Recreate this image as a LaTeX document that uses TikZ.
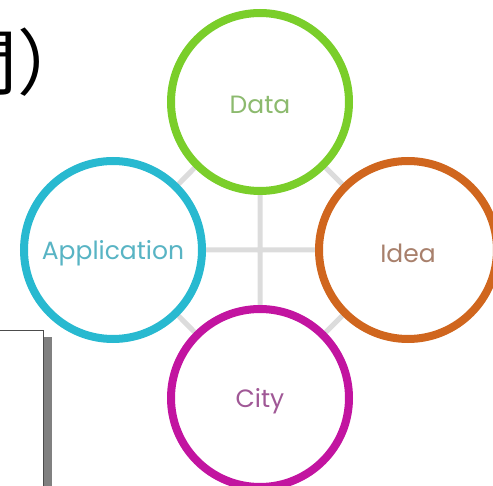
\documentclass[tikz,border=0pt]{standalone}
\usepackage{fontspec}
\setmainfont{Poppins}
\newfontfamily\cjkfont{Noto Sans CJK JP}
\usepackage{tikz}
\usetikzlibrary{positioning, backgrounds}

\definecolor{datagreen}{RGB}{122,206,42}
\definecolor{appteal}{RGB}{40,185,208}
\definecolor{ideaorange}{RGB}{208,102,30}
\definecolor{citymagenta}{RGB}{194,20,160}
\definecolor{datatext}{RGB}{140,186,110}
\definecolor{apptext}{RGB}{88,180,196}
\definecolor{ideatext}{RGB}{168,128,108}
\definecolor{citytext}{RGB}{160,88,150}
\definecolor{linkgray}{RGB}{220,220,220}
\definecolor{shadowgray}{RGB}{128,128,128}

\begin{document}
\begin{tikzpicture}[x=1pt, y=-1pt, on grid, node distance=148pt,
  main node/.style={circle,draw,fill=white,line width=8pt,inner sep=0pt,
    minimum size=178pt,font=\fontsize{25}{25}\selectfont},
  label text/.style={yshift=-3pt},
  link/.style={draw=linkgray,line width=5pt}]

\clip (0,0) rectangle (493,486);

% title, cut at the left edge
\node[anchor=base west, inner sep=0pt, font=\cjkfont\fontsize{72}{72}\selectfont] (title) at (-55,90) {間）};

% framed box with shadow
\fill[shadowgray] (8,337) rectangle (52,490);
\draw[draw=black!70, fill=white, line width=0.8pt] (-2,330) rectangle (43,490);

\node[main node, draw=datagreen] (D) at (260,102) {};
\node[main node, draw=appteal] (A) [below left=148pt and 147pt of D] {};
\node[main node, draw=ideaorange] (I) [below right=148pt and 148pt of D] {};
\node[main node, draw=citymagenta] (C) [below=296pt of D] {};

\node[label text, text=datatext, font=\fontsize{25}{25}\selectfont] (Dt) at (D) {Data};
\node[label text, text=apptext, font=\fontsize{25}{25}\selectfont] (At) at (A) {Application};
\node[label text, text=ideatext, font=\fontsize{25}{25}\selectfont] (It) at (I) {Idea};
\node[label text, text=citytext, font=\fontsize{25}{25}\selectfont] (Ct) at (C) {City};

\begin{scope}[on background layer]
\path[link]
(D.center) -- (C.center)
(A.center) -- (I.center)
(D.center) -- (A.center) -- (C.center) -- (I.center) -- cycle
;
\end{scope}

\end{tikzpicture}
\end{document}
